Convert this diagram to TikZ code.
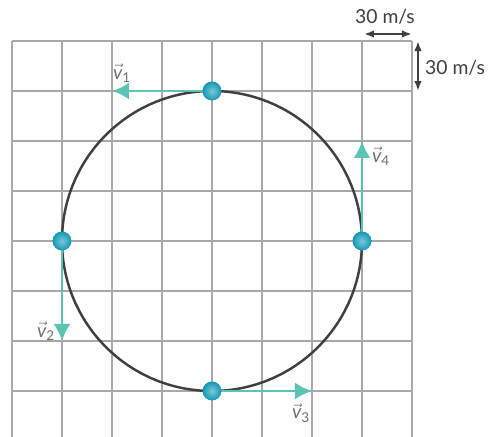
\documentclass[tikz,border=0pt]{standalone}
\usepackage{amsmath}
\usepackage{fontspec}
\setmainfont{Lato}
\usetikzlibrary{arrows.meta, positioning}
\definecolor{gridgray}{HTML}{A7A8AA}
\definecolor{darkline}{HTML}{404040}
\definecolor{velteal}{HTML}{5CC4B3}
\definecolor{ballblue}{HTML}{1199B6}
\newcommand{\vlab}[1]{$\vec{\text{\itshape v}}_{\text{#1}}$}
\begin{document}
\begin{tikzpicture}[
  dot/.style={circle, inner sep=0pt, minimum size=0.38cm, shading=radial,
              inner color=ballblue!55!white, outer color=ballblue},
  vel/.style={-{Latex[length=0.34cm, width=0.34cm]}, velteal, line width=1.6pt},
  dim/.style={{Latex[length=0.2cm]}-{Latex[length=0.2cm]}, darkline, line width=1.4pt},
  lab/.style={font=\fontsize{11}{13}\selectfont, text=darkline!75},
  dimlab/.style={font=\fontsize{11}{13}\selectfont, text=darkline}
]
  \useasboundingbox (-4.24,-3.92) rectangle (5.56,4.82);
  \fill[white] (-4.24,-3.92) rectangle (5.56,4.82);

  % grid
  \foreach \x in {-4,...,4}
    \draw[gridgray, line width=1.3pt] (\x,-3.92) -- (\x,4);
  \foreach \y in {-3,...,4}
    \draw[gridgray, line width=1.3pt] (-4,\y) -- (4,\y);

  \draw[darkline, line width=1.4pt] (0,0) circle (3);

  % velocities
  \coordinate (t1) at (-2,3);
  \coordinate (t2) at (-3,-2);
  \coordinate (t3) at (2,-3);
  \coordinate (t4) at (3,2);
  \draw[vel] (0,3) -- (t1);
  \draw[vel] (-3,0) -- (t2);
  \draw[vel] (0,-3) -- (t3);
  \draw[vel] (3,0) -- (t4);

  \node[dot] (p1) at (0,3) {};
  \node[dot] (p2) at (-3,0) {};
  \node[dot] (p3) at (0,-3) {};
  \node[dot] (p4) at (3,0) {};

  \node[lab] (v1) at (-1.8,3.36) {\vlab{1}};
  \node[lab] (v2) at (-3.32,-1.8) {\vlab{2}};
  \node[lab] (v3) at (1.78,-3.44) {\vlab{3}};
  \node[lab] (v4) at (3.38,1.7) {\vlab{4}};

  % scale
  \coordinate (h1) at (3.04,4.14);
  \coordinate (h2) at (4,4.14);
  \coordinate (w1) at (4.12,4);
  \coordinate (w2) at (4.12,3);
  \coordinate (wm) at (4.12,3.46);
  \draw[dim] (h1) -- (h2);
  \draw[dim] (w1) -- (w2);
  \node[dimlab] (sh) at (3.46,4.48) {30 m/s};
  \node[dimlab, right=0.02cm of wm] (sw) {30 m/s};
\end{tikzpicture}
\end{document}
